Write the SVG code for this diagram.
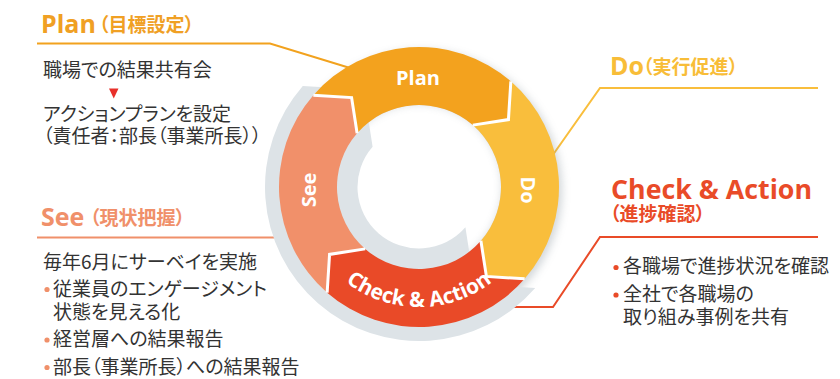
<svg xmlns="http://www.w3.org/2000/svg" width="840" height="379" viewBox="0 0 840 379">
<defs>
<style>
.body{font-family:"Noto Sans CJK JP","Noto Sans",sans-serif;font-size:19px;fill:#333;font-feature-settings:"palt";}
.ttl{font-family:"Open Sans","Noto Sans",sans-serif;font-weight:700;font-size:25px;}
.sub{font-family:"Noto Sans CJK JP",sans-serif;font-weight:700;font-size:19px;font-feature-settings:"palt";}
.lbl{font-family:"Open Sans","Noto Sans",sans-serif;font-weight:700;font-size:20px;fill:#fff;}
.sep{fill:none;stroke:#fff;stroke-width:3;stroke-linejoin:miter;}
.lead{fill:none;stroke-width:2;}
.shade{fill:#DDE3E7;}
</style>
<filter id="blur" x="-20%" y="-20%" width="140%" height="140%"><feGaussianBlur stdDeviation="4"/></filter>
<clipPath id="hole"><circle cx="419" cy="187" r="82"/></clipPath>
<path id="arcCA" d="M300.82,207.84 A120,120 0 0 0 537.18,207.84"/>
</defs>
<rect width="840" height="379" fill="#fff"/>

<g id="connectors">
<polyline class="lead" stroke="#F2A21E" points="37,43.5 270,43.5 350,68"/>
<polyline class="lead" stroke="#F9BE3C" points="818,88 600,88 550,159"/>
<polyline class="lead" stroke="#E94B28" points="818,237 600,237 553,307 480,307"/>
<polyline class="lead" stroke="#F0906A" points="37,237.5 295,237.5"/>
</g>

<g id="shadows">
<circle cx="422" cy="190" r="140" fill="#7d8a93" opacity="0.35" filter="url(#blur)"/>
<path class="shade" d="M302.78,85.96 A154,154 0 0 0 317.96,303.22 A154,154 0 0 0 535.22,288.04 L493.14,285.39 L479.18,266.86 A100,100 0 0 1 339.14,247.18 A100,100 0 0 1 358.82,107.14 L344.86,88.61 Z"/>
<circle cx="419" cy="187" r="82" fill="#fff"/>
<g clip-path="url(#hole)"><circle cx="419" cy="187" r="88" fill="none" stroke="#7d8a93" stroke-width="10" opacity="0.3" filter="url(#blur)"/></g>
<path class="shade" d="M372.59,146.65 A61.5,61.5 0 0 0 378.65,233.41 A61.5,61.5 0 0 0 465.41,227.35 L469.55,254.08 L479.18,266.86 A100,100 0 0 1 339.14,247.18 A100,100 0 0 1 358.82,107.14 L368.45,119.92 Z"/>
</g>

<g id="node-plan">
<path fill="#F3A21E" d="M313.34,95.15 A140,140 0 0 1 510.85,81.34 L508.44,119.60 L472.80,125.11 A82,82 0 0 0 357.11,133.20 L351.60,97.56 Z"/>
<text class="lbl" x="418" y="85" text-anchor="middle">Plan</text>
</g>
<g id="node-do">
<path fill="#F9BE3C" d="M510.85,81.34 A140,140 0 0 1 524.66,278.85 L486.40,276.44 L480.89,240.80 A82,82 0 0 0 472.80,125.11 L508.44,119.60 Z"/>
<text class="lbl" transform="translate(521,190) rotate(90)" text-anchor="middle">Do</text>
</g>
<g id="node-check">
<path fill="#E94A28" d="M524.66,278.85 A140,140 0 0 1 327.15,292.66 L329.56,254.40 L365.20,248.89 A82,82 0 0 0 480.89,240.80 L486.40,276.44 Z"/>
<text class="lbl" style="font-size:21px"><textPath href="#arcCA" startOffset="50%" text-anchor="middle">Check &amp; Action</textPath></text>
</g>
<g id="node-see">
<path fill="#F1906A" d="M327.15,292.66 A140,140 0 0 1 313.34,95.15 L351.60,97.56 L357.11,133.20 A82,82 0 0 0 365.20,248.89 L329.56,254.40 Z"/>
<text class="lbl" transform="translate(316,190) rotate(-90)" text-anchor="middle">See</text>
</g>
<g id="separators">
<polyline class="sep" points="510.85,81.34 508.44,119.60 472.80,125.11"/>
<polyline class="sep" points="524.66,278.85 486.40,276.44 480.89,240.80"/>
<polyline class="sep" points="327.15,292.66 329.56,254.40 365.20,248.89"/>
<polyline class="sep" points="313.34,95.15 351.60,97.56 357.11,133.20"/>
</g>

<g id="plan-note">
<text class="ttl" x="41" y="33" fill="#F0A024">Plan</text>
<text class="sub" x="99" y="32" fill="#F0A024">（目標設定）</text>
<text class="body" x="43" y="77">職場での結果共有会</text>
<polygon points="109,88.5 118.5,88.5 113.75,98.5" fill="#E8302A"/>
<text class="body" x="43" y="121">アクションプランを設定</text>
<text class="body" x="43" y="143">（責任者：部長（事業所長））</text>
</g>

<g id="do-note">
<text class="ttl" x="610" y="75" fill="#F8BD38">Do</text>
<text class="sub" x="643" y="74" fill="#F8BD38">（実行促進）</text>
</g>

<g id="check-note">
<text class="ttl" x="611" y="199" fill="#E94B28" textLength="201" lengthAdjust="spacingAndGlyphs" style="font-size:26px">Check &amp; Action</text>
<text class="sub" x="610" y="221" fill="#E94B28">（進捗確認）</text>
<circle cx="616" cy="267.5" r="2.6" fill="#E94B28"/>
<text class="body" x="623" y="273">各職場で進捗状況を確認</text>
<circle cx="616" cy="295" r="2.6" fill="#E94B28"/>
<text class="body" x="623" y="301">全社で各職場の</text>
<text class="body" x="623" y="324">取り組み事例を共有</text>
</g>

<g id="see-note">
<text class="ttl" x="41" y="226" fill="#F0906A">See</text>
<text class="sub" x="90" y="225" fill="#F0906A">（現状把握）</text>
<text class="body" x="43" y="269">毎年6月にサーベイを実施</text>
<circle cx="47" cy="289.5" r="2.6" fill="#F0906A"/>
<text class="body" x="53" y="296">従業員のエンゲージメント</text>
<text class="body" x="53" y="319">状態を見える化</text>
<circle cx="47" cy="340" r="2.6" fill="#F0906A"/>
<text class="body" x="53" y="346">経営層への結果報告</text>
<circle cx="47" cy="367.5" r="2.6" fill="#F0906A"/>
<text class="body" x="53" y="374">部長（事業所長）への結果報告</text>
</g>
</svg>
